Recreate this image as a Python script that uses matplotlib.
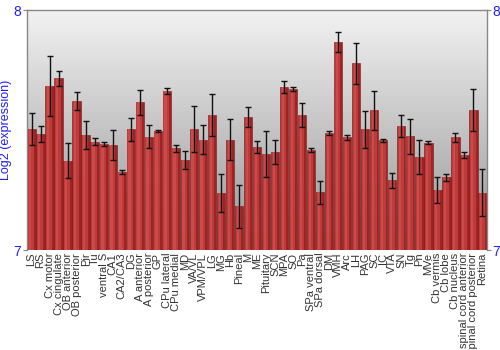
import numpy as np
import matplotlib
matplotlib.use("Agg")
import matplotlib.pyplot as plt
from matplotlib.colors import LinearSegmentedColormap

plt.rcParams["font.family"] = ["Liberation Sans", "DejaVu Sans"]

categories = ["LS", "RS", "Cx motor", "Cx cingulate", "OB anterior", "OB posterior", "Pir", "Tu",
              "ventral S", "CA1", "CA2/CA3", "DG", "A anterior", "A posterior", "GP", "CPu lateral",
              "CPu medial", "MD", "VA/VL", "VPM/VPL", "LG", "MG", "Hb", "Pineal", "M", "ME",
              "Pituitary", "SCN", "MPA", "SO", "Pa", "SPa ventral", "SPa dorsal", "DM", "VMH", "Arc",
              "LH", "PAG", "SC", "IC", "VTA", "SN", "Tg", "Pn", "MVe", "Cb vermis", "Cb lobe",
              "Cb nucleus", "spinal cord anterior", "spinal cord posterior", "Retina"]
values = [7.504, 7.483, 7.683, 7.715, 7.371, 7.621, 7.480, 7.451,
          7.442, 7.438, 7.325, 7.504, 7.615, 7.471, 7.496, 7.662,
          7.424, 7.375, 7.504, 7.460, 7.563, 7.238, 7.460, 7.182, 7.554, 7.429,
          7.399, 7.408, 7.679, 7.671, 7.561, 7.417, 7.240, 7.486, 7.867, 7.469,
          7.778, 7.504, 7.582, 7.458, 7.290, 7.517, 7.474, 7.388, 7.447, 7.250, 7.303,
          7.469, 7.396, 7.582, 7.239]
errors = [0.067, 0.035, 0.124, 0.030, 0.073, 0.037, 0.058, 0.014,
          0.010, 0.061, 0.010, 0.048, 0.053, 0.048, 0.003, 0.014,
          0.014, 0.038, 0.094, 0.060, 0.086, 0.080, 0.086, 0.090, 0.043, 0.024,
          0.096, 0.051, 0.026, 0.010, 0.050, 0.010, 0.047, 0.008, 0.042, 0.012,
          0.085, 0.077, 0.080, 0.006, 0.030, 0.047, 0.073, 0.072, 0.006, 0.056, 0.015,
          0.017, 0.014, 0.087, 0.097]
yticks = [7, 8]
ymin, ymax = 7, 8

fig = plt.figure(figsize=(5, 3.5), dpi=100)
ax = fig.add_axes([0.054, 0.2857, 0.920, 0.6857])

n = len(categories)
x = np.arange(n)
ax.set_xlim(-0.5, n - 0.5)
ax.set_ylim(ymin, ymax)

# background gradient
bg = LinearSegmentedColormap.from_list("bg", ["#969696", "#f2f2f2"])
grad = np.linspace(0, 1, 256).reshape(-1, 1)
ax.imshow(grad, cmap=bg, aspect="auto", extent=[-0.5, n - 0.5, ymin, ymax],
          origin="lower", zorder=0)

bottoms = ymin
heights = [v - ymin for v in values]
ax.bar(x, heights, bottom=bottoms, width=0.92, color="#9e2424", edgecolor="#7a1a1a",
       linewidth=0.4, zorder=2)
ax.bar(x - 0.06, heights, bottom=bottoms, width=0.62, color="#bd3b3b", linewidth=0, zorder=3)
ax.bar(x - 0.14, heights, bottom=bottoms, width=0.25, color="#cc4a4a", linewidth=0, zorder=3)
ax.errorbar(x, values, yerr=errors, fmt="none", ecolor="#111111", elinewidth=1,
            capsize=2.5, capthick=1, zorder=4)

ax.set_yticks(yticks)
ax.set_yticklabels([str(t) for t in yticks])
ax.tick_params(axis="y", colors="#888888", labelcolor="#1f1fff", labelsize=10, length=3,
               left=True, right=True, labelleft=True, labelright=True, pad=1)
ax.set_xticks(x)
ax.set_xticklabels(categories, rotation=90, fontsize=8, color="#333333")
ax.tick_params(axis="x", length=0, pad=2)
ax.set_ylabel("Log2 (expression)", color="#1f1fff", fontsize=9, labelpad=1)

for s in ["left", "right", "top"]:
    ax.spines[s].set_color("#888888")
    ax.spines[s].set_linewidth(1)
ax.spines["bottom"].set_visible(False)

fig.savefig("out.png", dpi=100)
